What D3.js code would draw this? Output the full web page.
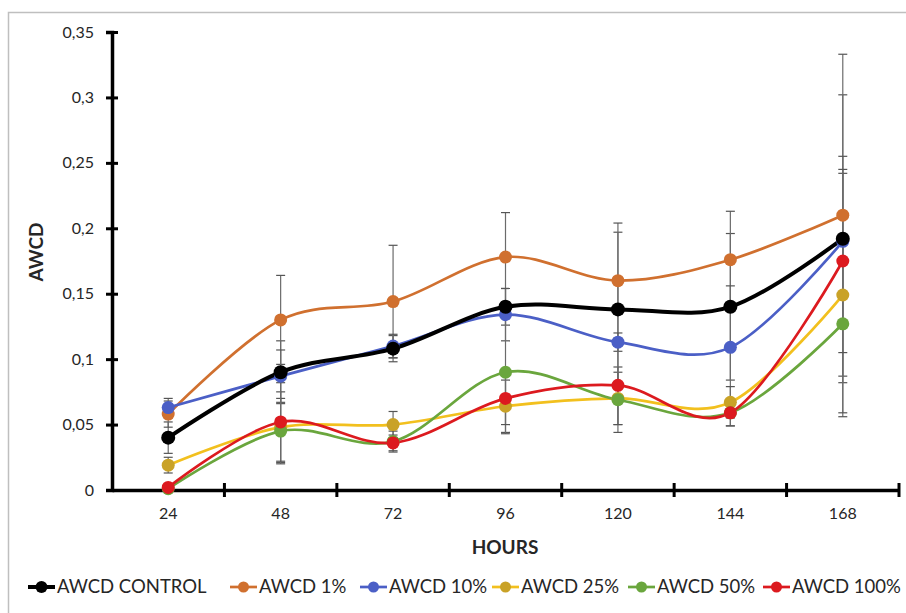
<!DOCTYPE html>
<html>
<head>
<meta charset="utf-8">
<script src="https://cdn.jsdelivr.net/npm/d3@7"></script>
<style>
  html, body { margin: 0; padding: 0; background: #fff; }
  svg { display: block; }
  text { font-family: Lato, "Open Sans", sans-serif; fill: #262626; }
</style>
</head>
<body>
<svg id="chart" width="906" height="613"></svg>
<script>
// ---------- DATA ----------
const hours = ["24", "48", "72", "96", "120", "144", "168"];
const yTicks = [0, 0.05, 0.1, 0.15, 0.2, 0.25, 0.3, 0.35];
const seriesNames = ["AWCD CONTROL", "AWCD 1%", "AWCD 10%", "AWCD 25%", "AWCD 50%", "AWCD 100%"];

const control = [0.040, 0.090, 0.108, 0.140, 0.138, 0.140, 0.192];
const pct1    = [0.058, 0.130, 0.144, 0.178, 0.160, 0.176, 0.210];
const pct10   = [0.063, 0.087, 0.110, 0.134, 0.113, 0.109, 0.190];
const pct25   = [0.019, 0.048, 0.050, 0.064, 0.070, 0.067, 0.149];
const pct50   = [0.001, 0.045, 0.037, 0.090, 0.069, 0.059, 0.127];
const pct100  = [0.002, 0.052, 0.036, 0.070, 0.080, 0.059, 0.175];

const errControl = [0.012, 0.024, 0.010, 0.014, 0.059, 0.056, 0.110];
const err1       = [0.010, 0.034, 0.043, 0.034, 0.044, 0.037, 0.123];
const err10      = [0.007, 0.020, 0.009, 0.020, 0.007, 0.047, 0.065];
const err25      = [0.006, 0.027, 0.010, 0.020, 0.020, 0.012, 0.093];
const err50      = [0.002, 0.025, 0.008, 0.047, 0.025, 0.010, 0.068];
const err100     = [0.002, 0.030, 0.006, 0.020, 0.030, 0.010, 0.070];

const lineColors   = ["#000000", "#d0702f", "#4b5fc6", "#f2c01e", "#6aa63d", "#dc1a1f"];
const markerColors = ["#000000", "#d0702f", "#4b5fc6", "#c9a227", "#6aa63d", "#dc1a1f"];

const series = [
  { name: seriesNames[0], values: control, err: errControl, lw: 4,   r: 7 },
  { name: seriesNames[1], values: pct1,    err: err1,       lw: 2.7, r: 6.5 },
  { name: seriesNames[2], values: pct10,   err: err10,      lw: 2.7, r: 6.5 },
  { name: seriesNames[3], values: pct25,   err: err25,      lw: 2.7, r: 6.5 },
  { name: seriesNames[4], values: pct50,   err: err50,      lw: 2.7, r: 6.5 },
  { name: seriesNames[5], values: pct100,  err: err100,     lw: 2.7, r: 6.5 }
];
series.forEach((s, i) => { s.color = lineColors[i]; s.mcolor = markerColors[i]; });

// ---------- LAYOUT ----------
const svg = d3.select("#chart");
const plotL = 112, plotR = 899, plotT = 32, plotB = 490;

const x = d3.scaleBand().domain(hours).range([plotL, plotR]).padding(0);
const cx = h => x(h) + x.bandwidth() / 2;
const y = d3.scaleLinear().domain([0, 0.35]).range([plotB, plotT]);

// frame
svg.append("rect").attr("x", 8.5).attr("y", 12.5).attr("width", 1200).attr("height", 1200)
  .attr("fill", "none").attr("stroke", "#bfbfbf").attr("stroke-width", 1.5);

const fmt = v => v === 0 ? "0" : String(+v.toFixed(2)).replace(".", ",");

// Y axis
const yAxis = d3.axisLeft(y).tickValues(yTicks).tickFormat(fmt).tickSize(6).tickPadding(12);
const gy = svg.append("g").attr("transform", `translate(${plotL},0)`).call(yAxis);
gy.select(".domain").attr("stroke", "#000").attr("stroke-width", 3.5);
gy.selectAll(".tick line").attr("stroke", "#000").attr("stroke-width", 3).attr("x1", 6).attr("x2", -6);
gy.selectAll(".tick text").style("font-size", "16px").style("font-family", "Lato, sans-serif").attr("fill", "#262626");

// X axis
const xAxis = d3.axisBottom(x).tickSize(0).tickPadding(18);
const gx = svg.append("g").attr("transform", `translate(0,${plotB})`).call(xAxis);
gx.select(".domain").attr("stroke", "#000").attr("stroke-width", 3.5);
gx.selectAll(".tick text").style("font-size", "16px").style("font-family", "Lato, sans-serif").attr("fill", "#262626");
// category boundary ticks
gx.selectAll(".bound").data(hours).enter().append("line")
  .attr("x1", h => x(h) + x.bandwidth()).attr("x2", h => x(h) + x.bandwidth())
  .attr("y1", -7).attr("y2", 7).attr("stroke", "#000").attr("stroke-width", 3);

// axis titles
svg.append("text").attr("x", 505).attr("y", 554).attr("text-anchor", "middle")
  .style("font-size", "19px").style("font-weight", "bold").attr("fill", "#000").text("HOURS");
svg.append("text").attr("transform", "translate(43,252) rotate(-90)").attr("text-anchor", "middle")
  .style("font-size", "19px").style("font-weight", "bold").attr("fill", "#000").text("AWCD");

// error bars
const eg = svg.append("g");
series.forEach(s => {
  hours.forEach((h, i) => {
    const v = s.values[i], e = s.err[i];
    const px = cx(h);
    eg.append("line").attr("x1", px).attr("x2", px).attr("y1", y(v + e)).attr("y2", y(Math.max(0, v - e)))
      .attr("stroke", "#6b6b6b").attr("stroke-width", 1.2);
    [v + e, Math.max(0, v - e)].forEach(t => {
      eg.append("line").attr("x1", px - 4.5).attr("x2", px + 4.5).attr("y1", y(t)).attr("y2", y(t))
        .attr("stroke", "#555").attr("stroke-width", 1.2);
    });
  });
});

// lines (draw control last so it sits on top)
const line = d3.line().x((d, i) => cx(hours[i])).y(d => y(d)).curve(d3.curveCardinal.tension(0));
const order = [1, 2, 3, 4, 5, 0];
const lg = svg.append("g");
order.forEach(k => {
  const s = series[k];
  lg.append("path").attr("d", line(s.values)).attr("fill", "none")
    .attr("stroke", s.color).attr("stroke-width", s.lw).attr("stroke-linejoin", "round");
});
order.forEach(k => {
  const s = series[k];
  lg.selectAll(null).data(s.values).enter().append("circle")
    .attr("cx", (d, i) => cx(hours[i])).attr("cy", d => y(d)).attr("r", s.r).attr("fill", s.mcolor);
});

// legend
const legendStarts = [28, 230, 360, 492, 628, 763];
const ly = 587;
series.forEach((s, i) => {
  const g = svg.append("g").attr("transform", `translate(${legendStarts[i]},${ly})`);
  g.append("line").attr("x1", 0).attr("x2", 27).attr("y1", 0).attr("y2", 0)
    .attr("stroke", s.color).attr("stroke-width", s.lw);
  g.append("circle").attr("cx", 13.5).attr("cy", 0).attr("r", i === 0 ? 6 : 5.5).attr("fill", s.mcolor);
  g.append("text").attr("x", 29).attr("y", 0).attr("dy", "0.35em")
    .style("font-size", "18.5px").attr("fill", "#262626").text(s.name);
});
</script>
</body>
</html>
